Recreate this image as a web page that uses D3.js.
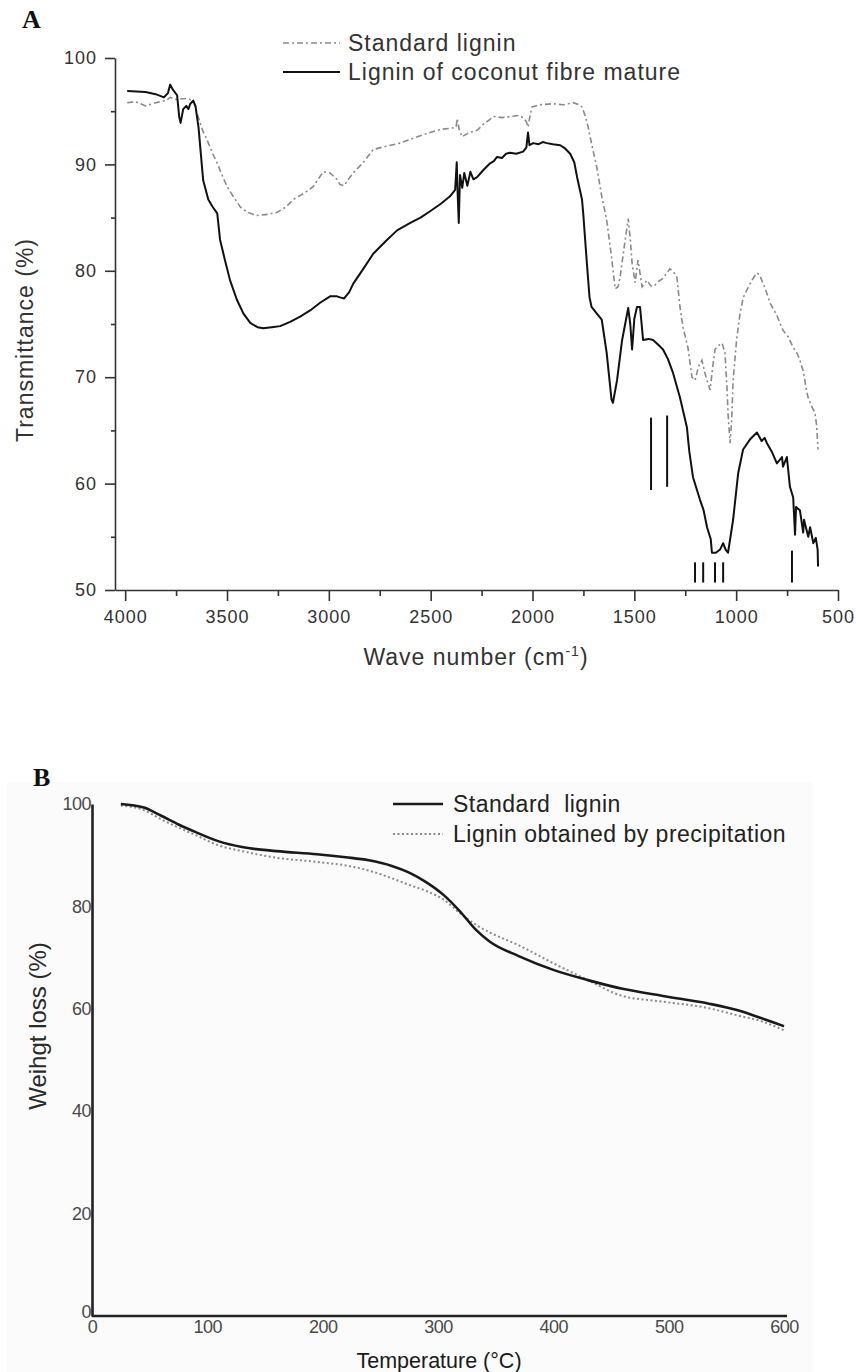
<!DOCTYPE html>
<html>
<head>
<meta charset="utf-8">
<script src="https://cdn.jsdelivr.net/npm/d3@7"></script>
<style>
  body { margin: 0; background: #fff; }
  text { font-family: "Liberation Sans", Arial, sans-serif; }
</style>
</head>
<body>
<div id="chart"></div>
<script>
// ---- panel A: FTIR spectra ----
const coconutWn = [3990, 3900, 3850, 3810, 3790, 3779, 3765, 3745, 3735, 3728, 3715, 3700, 3690, 3680, 3666, 3655, 3640,
  3617, 3592, 3570, 3548, 3534, 3510, 3485, 3452, 3420, 3386, 3350, 3322, 3280, 3239, 3190, 3141, 3090, 3043, 2994,
  2960, 2945, 2925, 2900, 2880, 2830, 2782, 2720, 2665, 2600, 2550, 2503, 2450, 2405, 2380, 2372, 2368, 2362, 2356,
  2345, 2335, 2320, 2305, 2290, 2272, 2240, 2208, 2190, 2174, 2150, 2130, 2110, 2080, 2046, 2030, 2022, 2015, 1997,
  1970, 1950, 1929, 1900, 1864, 1840, 1815, 1795, 1781, 1757, 1751, 1733, 1720, 1710, 1685, 1660, 1636, 1612, 1605,
  1585, 1560, 1530, 1520, 1511, 1500, 1487, 1472, 1457, 1430, 1408, 1380, 1359, 1335, 1310, 1276, 1242, 1230, 1212,
  1178, 1160, 1143, 1125, 1119, 1100, 1079, 1064, 1052, 1040, 1015, 990, 966, 930, 898, 875, 860, 849, 825, 800, 775,
  770, 751, 736, 720, 711, 706, 687, 671, 667, 646, 637, 621, 609, 600, 598];
const coconutT = [96.9, 96.8, 96.6, 96.3, 96.7, 97.5, 97.0, 96.5, 94.5, 93.9, 95.2, 95.5, 95.2, 95.7, 96.0, 95.5, 93.5,
  88.5, 86.7, 86.0, 85.4, 82.9, 81.0, 79.1, 77.3, 76.0, 75.1, 74.7, 74.6, 74.7, 74.8, 75.2, 75.7, 76.3, 77.0, 77.6,
  77.6, 77.5, 77.4, 78.0, 78.8, 80.2, 81.6, 82.8, 83.8, 84.5, 85.0, 85.6, 86.3, 87.0, 87.6, 90.2, 87.5, 84.5, 89.0,
  87.8, 89.2, 88.0, 89.3, 88.6, 88.8, 89.5, 90.1, 90.3, 90.7, 90.6, 91.0, 91.1, 91.0, 91.2, 91.6, 93.0, 91.8, 92.0,
  91.9, 92.1, 92.0, 91.9, 91.8, 91.5, 91.0, 90.2, 88.8, 86.7, 85.4, 80.7, 77.5, 76.6, 76.0, 75.4, 72.3, 67.9, 67.6,
  69.7, 73.5, 76.5, 75.0, 72.6, 75.5, 76.6, 76.6, 73.5, 73.6, 73.5, 73.0, 72.6, 71.7, 70.4, 68.1, 65.3, 63.0, 60.6,
  58.5, 57.5, 55.9, 54.8, 53.5, 53.5, 53.8, 54.4, 53.8, 53.5, 56.6, 61.0, 63.2, 64.2, 64.8, 64.0, 64.3, 63.8, 63.0, 61.9, 62.5,
  61.6, 62.5, 59.7, 58.7, 55.2, 57.8, 57.5, 55.4, 56.6, 55.0, 55.9, 54.4, 54.9, 53.8, 52.2];

const standardWn = [3990, 3950, 3900, 3850, 3800, 3779, 3750, 3700, 3666, 3647, 3620, 3598, 3570, 3548, 3520, 3499,
  3470, 3435, 3400, 3352, 3300, 3254, 3210, 3175, 3120, 3077, 3028, 2994, 2960, 2945, 2925, 2900, 2880, 2830, 2782,
  2720, 2650, 2580, 2503, 2450, 2400, 2375, 2370, 2360, 2346, 2310, 2272, 2240, 2210, 2193, 2150, 2110, 2070, 2046,
  2030, 2022, 2010, 2002, 1963, 1900, 1850, 1800, 1770, 1757, 1740, 1727, 1705, 1685, 1660, 1636, 1612, 1594, 1580,
  1570, 1545, 1530, 1520, 1511, 1496, 1482, 1470, 1462, 1438, 1420, 1408, 1380, 1359, 1340, 1325, 1305, 1291, 1276,
  1261, 1237, 1217, 1202, 1185, 1168, 1155, 1143, 1128, 1115, 1104, 1085, 1069, 1055, 1045, 1040, 1030, 1022, 1015,
  998, 981, 965, 947, 920, 898, 885, 874, 855, 834, 800, 770, 745, 720, 700, 687, 670, 655, 647, 630, 613, 605, 598];
const standardT = [95.8, 95.9, 95.5, 95.8, 96.0, 96.3, 96.1, 96.2, 96.0, 94.8, 93.2, 92.3, 91.0, 90.1, 88.8, 87.9,
  87.0, 86.0, 85.5, 85.2, 85.3, 85.5, 86.0, 86.7, 87.3, 87.9, 89.3, 89.2, 88.6, 88.1, 88.0, 88.7, 89.2, 90.2, 91.4,
  91.7, 92.0, 92.5, 93.0, 93.3, 93.4, 93.5, 94.3, 93.3, 92.6, 93.0, 93.2, 93.8, 94.2, 94.5, 94.4, 94.5, 94.6, 94.4,
  94.0, 93.5, 94.8, 95.4, 95.6, 95.7, 95.6, 95.8, 95.6, 95.4, 94.5, 93.5, 91.5, 89.8, 87.0, 84.8, 81.3, 78.3, 78.5,
  79.4, 82.9, 84.9, 83.0, 80.7, 78.9, 81.0, 79.5, 78.5, 79.1, 78.6, 78.5, 79.0, 79.3, 79.8, 80.2, 79.8, 79.4, 76.6,
  74.7, 72.8, 70.0, 69.7, 71.0, 71.6, 70.5, 69.7, 68.8, 71.0, 72.6, 73.0, 73.2, 72.3, 69.0, 66.6, 63.8, 66.0, 69.7,
  73.5, 76.0, 77.5, 78.2, 79.2, 79.8, 79.6, 79.1, 78.2, 77.0, 75.8, 74.4, 73.8, 72.8, 72.2, 71.6, 70.5, 68.8, 68.1,
  67.3, 66.6, 65.5, 63.2];

// band markers: wavenumber, lower and upper transmittance
const bandWn = [1418, 1339, 1202, 1162, 1104, 1064, 726];
const bandLow = [59.4, 59.7, 50.7, 50.7, 50.7, 50.7, 50.7];
const bandHigh = [66.2, 66.4, 52.6, 52.6, 52.6, 52.6, 53.7];

const ftirXTicks = [4000, 3500, 3000, 2500, 2000, 1500, 1000, 500];
const ftirYTicks = [50, 60, 70, 80, 90, 100];

// ---- panel B: TGA ----
const tgaTemp = [25, 45, 60, 75, 90, 110, 130, 160, 195, 220, 240, 260, 275, 290, 305, 320, 333, 345, 370, 400, 430,
  460, 495, 535, 560, 580, 600];
const tgaStandard = [100.0, 99.3, 97.7, 96.0, 94.5, 92.7, 91.6, 90.8, 90.2, 89.6, 89.0, 87.9, 86.6, 84.7, 82.2, 78.8,
  75.4, 73.1, 70.3, 67.6, 65.6, 63.9, 62.5, 61.0, 59.7, 58.2, 56.6];
const tgaPrecip = [99.7, 98.8, 97.0, 95.4, 93.9, 91.9, 90.8, 89.5, 88.7, 88.0, 87.0, 85.5, 84.2, 83.0, 81.3, 78.5,
  76.4, 74.9, 72.4, 68.9, 65.6, 62.5, 61.4, 60.1, 58.7, 57.6, 55.8];
const tgaXTicks = [0, 100, 200, 300, 400, 500, 600];
const tgaYTicks = [0, 20, 40, 60, 80, 100];

const width = 856, height = 1372;
const svg = d3.select("#chart").append("svg")
  .attr("width", width)
  .attr("height", height)
  .style("background-color", "white");

// ================= Panel A =================
const xA = d3.scaleLinear().domain([4050, 500]).range([115, 838]);
const yA = d3.scaleLinear().domain([50, 100]).range([590, 58]);
const gA = svg.append("g").attr("class", "panelA");

svg.append("text").attr("x", 22).attr("y", 28)
  .style("font-family", "'Liberation Serif', 'Times New Roman', serif")
  .style("font-weight", "bold").style("font-size", "26px").attr("fill", "#111").text("A");

// minor ticks
gA.append("g").attr("transform", "translate(0,590)")
  .call(d3.axisBottom(xA).tickValues(d3.range(3750, 500, -500)).tickSize(6).tickFormat("").tickSizeOuter(0))
  .call(g => g.select(".domain").remove());
gA.append("g").attr("transform", "translate(115,0)")
  .call(d3.axisLeft(yA).tickValues([55, 65, 75, 85, 95]).tickSize(4).tickFormat("").tickSizeOuter(0))
  .call(g => g.select(".domain").remove());

const axAx = gA.append("g").attr("transform", "translate(0,590)")
  .call(d3.axisBottom(xA).tickValues(ftirXTicks).tickFormat(d3.format("d"))
    .tickSize(11).tickPadding(9).tickSizeOuter(0));
const axAy = gA.append("g").attr("transform", "translate(115,0)")
  .call(d3.axisLeft(yA).tickValues(ftirYTicks).tickFormat(d3.format("d"))
    .tickSize(10).tickPadding(8).tickSizeOuter(0));
[axAx, axAy].forEach(a => {
  a.selectAll("text").style("font-size", "18px").style("letter-spacing", "1px").attr("fill", "#333");
});
gA.selectAll(".domain, .tick line").attr("stroke", "#333").attr("stroke-width", 1.6);

const lineA = d3.line().x(d => xA(d[0])).y(d => yA(d[1]));
gA.append("path")
  .datum(d3.zip(standardWn, standardT))
  .attr("d", lineA).attr("fill", "none")
  .attr("stroke", "#8a8a8a").attr("stroke-width", 1.6)
  .attr("stroke-dasharray", "6,3,2,3");
gA.append("path")
  .datum(d3.zip(coconutWn, coconutT))
  .attr("d", lineA).attr("fill", "none")
  .attr("stroke", "#111").attr("stroke-width", 2)
  .attr("stroke-linejoin", "round");

gA.selectAll(".band").data(d3.range(bandWn.length)).enter()
  .append("line").attr("class", "band")
  .attr("x1", i => xA(bandWn[i])).attr("x2", i => xA(bandWn[i]))
  .attr("y1", i => yA(bandHigh[i])).attr("y2", i => yA(bandLow[i]))
  .attr("stroke", "#111").attr("stroke-width", 2);

// axis titles
gA.append("text")
  .attr("transform", "translate(33,340) rotate(-90)")
  .attr("text-anchor", "middle").style("font-size", "23px").style("letter-spacing", "1px")
  .attr("fill", "#333").text("Transmittance (%)");
const xt = gA.append("text").attr("x", 476).attr("y", 665)
  .attr("text-anchor", "middle").style("font-size", "23px").style("letter-spacing", "1px").attr("fill", "#333");
xt.append("tspan").text("Wave number (cm");
xt.append("tspan").attr("dy", -9).style("font-size", "14px").text("-1");
xt.append("tspan").attr("dy", 9).text(")");

// legend A
const legA = [
  { name: "Standard lignin", color: "#8a8a8a", dash: "6,3,2,3", w: 1.6, y: 43 },
  { name: "Lignin of coconut fibre mature", color: "#111", dash: null, w: 2, y: 72 }
];
legA.forEach(d => {
  gA.append("line").attr("x1", 283).attr("x2", 340).attr("y1", d.y).attr("y2", d.y)
    .attr("stroke", d.color).attr("stroke-width", d.w).attr("stroke-dasharray", d.dash);
  gA.append("text").attr("x", 348).attr("y", d.y + 8)
    .style("font-size", "23px").style("letter-spacing", "1px").attr("fill", "#333").text(d.name);
});

// ================= Panel B =================
svg.append("rect").attr("x", 7).attr("y", 782).attr("width", 806).attr("height", 590).attr("fill", "#fbfbfb");
svg.append("text").attr("x", 33).attr("y", 786)
  .style("font-family", "'Liberation Serif', 'Times New Roman', serif")
  .style("font-weight", "bold").style("font-size", "26px").attr("fill", "#111").text("B");

const xB = d3.scaleLinear().domain([0, 600]).range([92, 784]);
const yB = d3.scaleLinear().domain([0, 100]).range([1316, 804]);
const gB = svg.append("g").attr("class", "panelB");

const axBx = gB.append("g").attr("transform", "translate(0,1316)")
  .call(d3.axisBottom(xB).tickValues(tgaXTicks).tickSize(0).tickPadding(4).tickSizeOuter(0));
const axBy = gB.append("g").attr("transform", "translate(92,0)")
  .call(d3.axisLeft(yB).tickValues(tgaYTicks).tickSize(0).tickPadding(1).tickSizeOuter(0));
[axBx, axBy].forEach(a => {
  a.selectAll("text").style("font-size", "18px").style("letter-spacing", "-0.5px").attr("fill", "#4a4a4a");
  a.select(".domain").attr("stroke", "#222").attr("stroke-width", 2.6);
});
axBx.select(".domain").attr("d", "M92,0H787");
// the "0" of the y axis sits a little higher, as in the original
axBy.selectAll(".tick").filter(d => d === 0).select("text").attr("dy", "0.1em");

const lineB = d3.line().curve(d3.curveMonotoneX).x(d => xB(d[0])).y(d => yB(d[1]));
gB.append("path")
  .datum(d3.zip(tgaTemp, tgaPrecip))
  .attr("d", lineB).attr("fill", "none")
  .attr("stroke", "#8a8a8a").attr("stroke-width", 2).attr("stroke-dasharray", "2,2.5");
gB.append("path")
  .datum(d3.zip(tgaTemp, tgaStandard))
  .attr("d", lineB).attr("fill", "none")
  .attr("stroke", "#1a1a1a").attr("stroke-width", 2.6);

gB.append("text")
  .attr("transform", "translate(46,1026) rotate(-90)")
  .attr("text-anchor", "middle").style("font-size", "24px").attr("fill", "#2a2a2a").text("Weihgt loss (%)");
gB.append("text").attr("x", 439).attr("y", 1368)
  .attr("text-anchor", "middle").style("font-size", "21.5px").attr("fill", "#1a1a1a").text("Temperature (°C)");

const legB = [
  { name: "Standard  lignin", color: "#1a1a1a", dash: null, w: 2.6, y: 804 },
  { name: "Lignin obtained by precipitation", color: "#8a8a8a", dash: "2,2.5", w: 2, y: 834 }
];
legB.forEach(d => {
  gB.append("line").attr("x1", 393).attr("x2", 443).attr("y1", d.y).attr("y2", d.y)
    .attr("stroke", d.color).attr("stroke-width", d.w).attr("stroke-dasharray", d.dash);
  gB.append("text").attr("x", 453).attr("y", d.y + 8)
    .style("font-size", "23px").style("letter-spacing", "0.5px").style("white-space", "pre")
    .attr("fill", "#222").text(d.name);
});
</script>
</body>
</html>
